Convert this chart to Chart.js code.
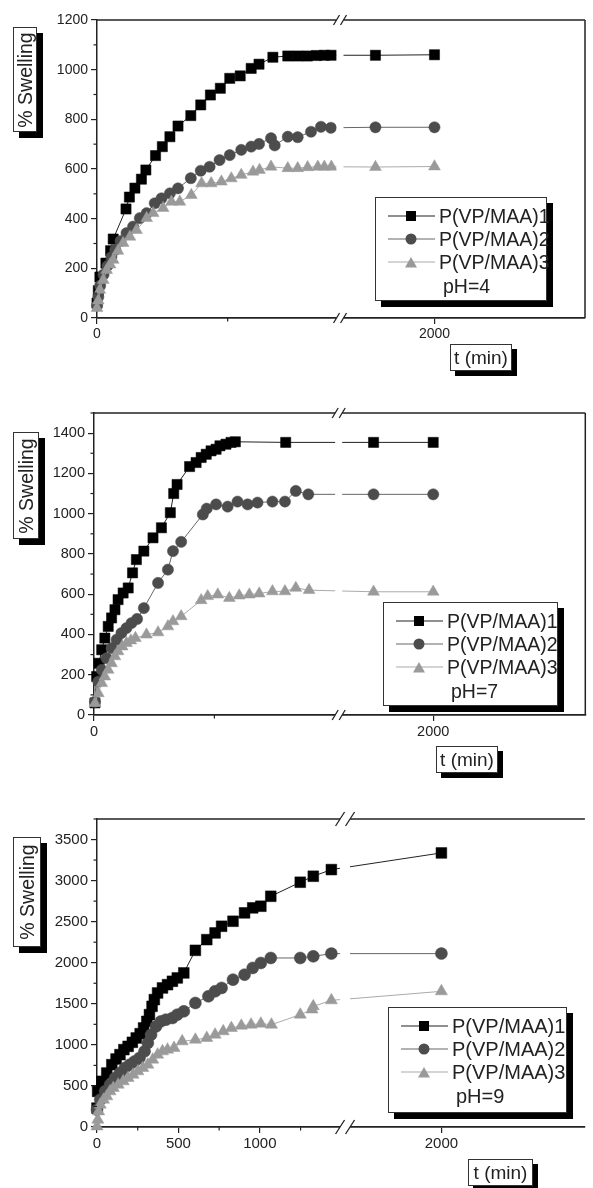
<!DOCTYPE html>
<html><head><meta charset="utf-8">
<script src="https://cdn.jsdelivr.net/npm/chart.js@4.4.1/dist/chart.umd.min.js"></script>
<style>
html,body{margin:0;padding:0;background:#fff;}
#wrap{position:relative;width:593px;height:1188px;overflow:hidden;font-family:"Liberation Sans",Arial,sans-serif;color:#222;}
canvas{position:absolute;left:0;}
.box{position:absolute;background:#fff;border:1px solid #333;box-sizing:border-box;}
.ytitle span{position:absolute;left:50%;top:50%;transform:translate(-50%,-50%) rotate(-90deg);white-space:nowrap;font-size:19.5px;line-height:22px;}
.xtitle{text-align:center;font-size:19px;line-height:25px;}
.row{position:absolute;white-space:nowrap;line-height:22px;}
.mk{position:absolute;}
</style>
</head><body>
<div id="wrap">
<canvas id="c1" width="593" height="390" style="top:0px"></canvas>
<canvas id="c2" width="593" height="390" style="top:390px"></canvas>
<canvas id="c3" width="593" height="408" style="top:780px"></canvas>
</div>
<script>
// ---------- DATA ----------
const SERIES_NAMES = ['P(VP/MAA)1', 'P(VP/MAA)2', 'P(VP/MAA)3'];
const PH_LABELS = ['pH=4', 'pH=7', 'pH=9'];
const Y_TITLE = '% Swelling';
const X_TITLE = 't (min)';

// pH = 4
const P1_S1_T = [0,5,11,34,52,62,111,124,145,170,187,224,250,279,310,359,397,434,472,508,548,590,620,673,730,768,805,840,870,897,1800,2000];
const P1_S1_V = [60,110,165,221,271,318,439,487,523,559,596,654,690,730,773,815,858,898,925,965,975,1005,1022,1050,1055,1055,1055,1057,1058,1058,1058,1060];
const P1_S2_T = [0,5,12,25,40,55,70,90,113,138,164,190,221,247,279,310,359,397,431,469,508,552,590,620,666,680,730,768,819,857,895,1800,2000];
const P1_S2_V = [50,85,130,175,210,245,275,310,342,368,402,422,462,482,502,522,563,593,609,636,656,677,690,701,724,695,730,728,750,770,766,768,768];
const P1_S3_T = [0,5,11,24,37,50,62,80,100,126,151,190,215,253,285,317,361,400,437,476,514,552,597,622,666,730,768,806,845,870,897,1800,2000];
const P1_S3_V = [40,70,113,153,193,215,234,270,302,327,354,402,422,443,468,468,495,542,542,549,562,576,589,596,609,603,603,607,609,609,609,608,610];
const P1_Y_TICKS = [0,200,400,600,800,1000,1200];
const P1_Y_MINOR = [100,300,500,700,900,1100];
const P1_X_TICKS = [0,2000];
const P1_X_MINOR = [500];

// pH = 7
const P2_S1_T = [4,11,21,32,45,59,73,87,100,121,142,160,176,207,245,280,317,331,345,397,424,445,466,486,507,523,548,569,587,796,1800,2000];
const P2_S1_V = [60,191,257,324,382,440,482,523,573,606,631,706,772,814,880,930,1005,1100,1145,1234,1254,1279,1295,1312,1320,1337,1345,1354,1357,1354,1354,1354];
const P2_S2_T = [4,18,32,52,73,94,114,135,156,179,207,266,307,328,362,452,468,507,555,596,638,679,741,793,838,890,1800,2000];
const P2_S2_V = [66,166,224,282,332,374,407,432,457,477,531,656,722,814,860,996,1025,1046,1035,1060,1046,1055,1060,1060,1113,1096,1096,1096];
const P2_S3_T = [4,18,32,45,59,73,87,100,117,135,153,172,218,266,307,328,362,445,472,514,562,603,645,686,741,793,838,893,1800,2000];
const P2_S3_V = [58,108,158,191,224,257,291,316,340,357,370,382,399,410,440,465,490,570,590,598,581,593,598,603,614,614,631,620,612,612];
const P2_Y_TICKS = [0,200,400,600,800,1000,1200,1400];
const P2_Y_MINOR = [100,300,500,700,900,1100,1300,1500];
const P2_X_TICKS = [0,2000];
const P2_X_MINOR = [500];

// pH = 9
const P3_S1_T = [0,4,30,60,91,117,141,165,191,217,241,265,286,306,322,338,352,372,402,433,463,493,533,604,674,725,765,835,906,956,1006,1067,1248,1328,1439,2000];
const P3_S1_V = [230,433,556,657,759,828,881,942,982,1031,1084,1136,1206,1286,1368,1469,1551,1632,1693,1733,1774,1815,1876,2151,2281,2363,2444,2505,2607,2668,2688,2809,2980,3053,3134,3337];
const P3_S2_T = [0,20,50,80,111,141,171,201,231,261,292,312,332,362,392,423,463,493,533,604,684,725,765,835,906,956,1006,1067,1248,1328,1439,2000];
const P3_S2_V = [211,333,434,515,597,657,718,759,799,840,921,1023,1124,1225,1286,1307,1327,1368,1408,1510,1591,1652,1693,1794,1855,1937,1997,2058,2058,2078,2111,2111];
const P3_S3_T = [0,5,10,20,40,60,80,100,130,161,191,221,251,281,312,342,372,402,433,473,523,604,674,725,775,825,886,946,1006,1071,1248,1320,1328,1439,2000];
const P3_S3_V = [7,89,190,272,333,373,434,475,515,556,597,637,678,718,759,820,881,921,942,962,1043,1063,1084,1124,1165,1205,1233,1246,1258,1246,1368,1430,1469,1542,1652];
const P3_Y_TICKS = [0,500,1000,1500,2000,2500,3000,3500];
const P3_Y_MINOR = [250,750,1250,1750,2250,2750,3250,3750];
const P3_X_TICKS = [0,500,1000,2000];
const P3_X_MINOR = [250,750,1250];

// ---------- STYLE / LAYOUT ----------
const W = 593;
const COLORS = ['#000000', '#4c4c4c', '#9a9a9a'];
const LINE_COLORS = ['#222222', '#666666', '#aaaaaa'];
const STYLES = ['rect', 'circle', 'triangle'];

function toU(t, b) {
  return t <= b.leftMax ? (t / b.leftMax) * b.frac
    : b.frac + (t - b.rightMin) / (b.rightMax - b.rightMin) * (1 - b.frac);
}

const panels = [
  { id: 'c1', H: 390, area: {left: 97, top: 20, right: 585, bottom: 318}, yMax: 1200, font: 14,
    brk: {leftMax: 930, rightMin: 1680, rightMax: 2510, frac: 0.498}, rightBorder: true,
    slash: {g: 3.5, dx: 3, dy: 5}, radii: [7.2, 5.6, 6.8],
    series: [[P1_S1_T, P1_S1_V], [P1_S2_T, P1_S2_V], [P1_S3_T, P1_S3_V]],
    yt: P1_Y_TICKS, ym: P1_Y_MINOR, xt: P1_X_TICKS, xm: P1_X_MINOR },
  { id: 'c2', H: 390, area: {left: 94, top: 23, right: 588, bottom: 325}, yMax: 1500, font: 14.5,
    brk: {leftMax: 1016, rightMin: 1683, rightMax: 2510, frac: 0.498}, rightBorder: true,
    slash: {g: 3.5, dx: 3, dy: 5}, radii: [7.2, 5.6, 6.8],
    series: [[P2_S1_T, P2_S1_V], [P2_S2_T, P2_S2_V], [P2_S3_T, P2_S3_V]],
    yt: P2_Y_TICKS, ym: P2_Y_MINOR, xt: P2_X_TICKS, xm: P2_X_MINOR },
  { id: 'c3', H: 408, area: {left: 97, top: 39, right: 593, bottom: 347}, yMax: 3750, font: 15,
    brk: {leftMax: 1523, rightMin: 1673, rightMax: 2487, frac: 0.5084}, rightBorder: false,
    slash: {g: 5, dx: 4.5, dy: 7}, radii: [7.6, 6, 7],
    series: [[P3_S1_T, P3_S1_V], [P3_S2_T, P3_S2_V], [P3_S3_T, P3_S3_V]],
    yt: P3_Y_TICKS, ym: P3_Y_MINOR, xt: P3_X_TICKS, xm: P3_X_MINOR }
];

const deco = {
  id: 'deco',
  afterDatasetsDraw(chart, args, o) {
    const ctx = chart.ctx, a = chart.chartArea, xs = chart.scales.x, ys = chart.scales.y;
    const line = (x1, y1, x2, y2) => { ctx.beginPath(); ctx.moveTo(x1, y1); ctx.lineTo(x2, y2); ctx.stroke(); };
    ctx.save();
    ctx.strokeStyle = '#222'; ctx.lineWidth = 1.5;
    line(a.left, a.top, a.right, a.top);
    if (o.rightBorder) line(a.right, a.top, a.right, a.bottom);
    ctx.lineWidth = 1.2;
    o.ym.forEach(v => { const y = ys.getPixelForValue(v); line(a.left - 3.5, y, a.left, y); });
    o.xm.forEach(t => { const x = xs.getPixelForValue(toU(t, o.brk)); line(x, a.bottom, x, a.bottom + 3.5); });
    const bx = xs.getPixelForValue(o.brk.frac);
    const s = o.slash;
    ctx.fillStyle = '#fff';
    ctx.fillRect(bx - s.g, a.top - 4, 2 * s.g, a.bottom - a.top + 8);
    ctx.lineWidth = 1.3;
    [a.top, a.bottom].forEach(y => {
      [bx - s.g, bx + s.g].forEach(x => line(x - s.dx, y + s.dy, x + s.dx, y - s.dy));
    });
    ctx.restore();
  }
};

panels.forEach(p => {
  const a = p.area;
  const font = {family: '"Liberation Sans", Arial, sans-serif', size: p.font};
  const datasets = p.series.map((s, k) => ({
    data: s[0].map((t, i) => ({x: toU(t, p.brk), y: s[1][i]})),
    borderColor: LINE_COLORS[k], borderWidth: 1, tension: 0,
    pointStyle: STYLES[k], pointRadius: p.radii[k],
    pointBackgroundColor: COLORS[k], pointBorderColor: COLORS[k], pointBorderWidth: 0.5,
    clip: false, order: 3 - k
  }));
  new Chart(document.getElementById(p.id), {
    type: 'line',
    data: {datasets},
    plugins: [deco],
    options: {
      responsive: false, animation: false, devicePixelRatio: 1,
      layout: {padding: {top: a.top, right: W - a.right, left: 0, bottom: 0}},
      plugins: {legend: {display: false}, tooltip: {enabled: false},
        deco: {rightBorder: p.rightBorder, ym: p.ym, xm: p.xm, brk: p.brk, slash: p.slash}},
      scales: {
        x: {
          type: 'linear', min: 0, max: 1,
          afterBuildTicks: s => { s.ticks = p.xt.map(t => ({value: toU(t, p.brk)})); },
          afterFit: s => { s.height = p.H - a.bottom; },
          ticks: {autoSkip: false, maxRotation: 0, padding: 2, font, color: '#222',
            callback: (v, i) => String(p.xt[i])},
          grid: {display: true, drawOnChartArea: false, drawTicks: true, tickLength: 6, color: '#222', lineWidth: 1.2},
          border: {display: true, color: '#222', width: 1.8}
        },
        y: {
          type: 'linear', min: 0, max: p.yMax,
          afterBuildTicks: s => { s.ticks = p.yt.map(v => ({value: v})); },
          afterFit: s => { s.width = a.left; },
          ticks: {autoSkip: false, padding: 3, font, color: '#222', callback: (v, i) => String(p.yt[i])},
          grid: {display: true, drawOnChartArea: false, drawTicks: true, tickLength: 6, color: '#222', lineWidth: 1.2},
          border: {display: true, color: '#222', width: 1.5}
        }
      }
    }
  });
});

// ---------- HTML overlays: axis titles and legends ----------
const wrap = document.getElementById('wrap');
function box(l, t, w, h, sh, cls) {
  const d = document.createElement('div');
  d.className = 'box ' + (cls || '');
  d.style.cssText = `left:${l}px;top:${t}px;width:${w}px;height:${h}px;box-shadow:${sh}px ${sh}px 0 #000;`;
  wrap.appendChild(d);
  return d;
}
const yBoxes = [[13, 27, 24, 105], [13, 432, 26, 107], [13, 837, 28, 110]];
yBoxes.forEach(b => {
  const d = box(b[0], b[1], b[2], b[3], 6, 'ytitle');
  const s = document.createElement('span'); s.textContent = Y_TITLE; d.appendChild(s);
});
const xBoxes = [[450, 344, 62, 27], [436, 746, 62, 27], [468, 1159, 65, 27]];
xBoxes.forEach(b => {
  const d = box(b[0], b[1], b[2], b[3], 5, 'xtitle');
  d.textContent = X_TITLE;
});
const MARKERS = [
  '<rect x="18" y="3" width="10" height="10" fill="#000"/>',
  '<circle cx="23" cy="8" r="5.5" fill="#4c4c4c"/>',
  '<polygon points="17,13.5 29,13.5 23,3" fill="#9a9a9a"/>'
];
const legends = [
  {l: 375, t: 197, w: 172, h: 104, fs: 19.5},
  {l: 383, t: 602, w: 175, h: 104, fs: 19.5},
  {l: 388, t: 1007, w: 179, h: 106, fs: 20}
];
const rowsY = [18, 41, 64];
legends.forEach((g, pi) => {
  const d = box(g.l, g.t, g.w, g.h, 6, '');
  SERIES_NAMES.forEach((name, k) => {
    const m = document.createElement('div');
    m.className = 'mk';
    m.style.cssText = `left:12px;top:${rowsY[k] - 8}px;width:48px;height:16px;`;
    m.innerHTML = `<svg width="48" height="16"><line x1="0" y1="8" x2="47" y2="8" stroke="${LINE_COLORS[k]}" stroke-width="1.2"/>${MARKERS[k]}</svg>`;
    d.appendChild(m);
    const r = document.createElement('div');
    r.className = 'row';
    r.style.cssText = `left:63px;top:${rowsY[k] - 11}px;font-size:${g.fs}px;`;
    r.textContent = name;
    d.appendChild(r);
  });
  const ph = document.createElement('div');
  ph.className = 'row';
  ph.style.cssText = `left:67px;top:${88 - 11}px;font-size:${g.fs}px;`;
  ph.textContent = PH_LABELS[pi];
  d.appendChild(ph);
});
</script>
</body></html>
